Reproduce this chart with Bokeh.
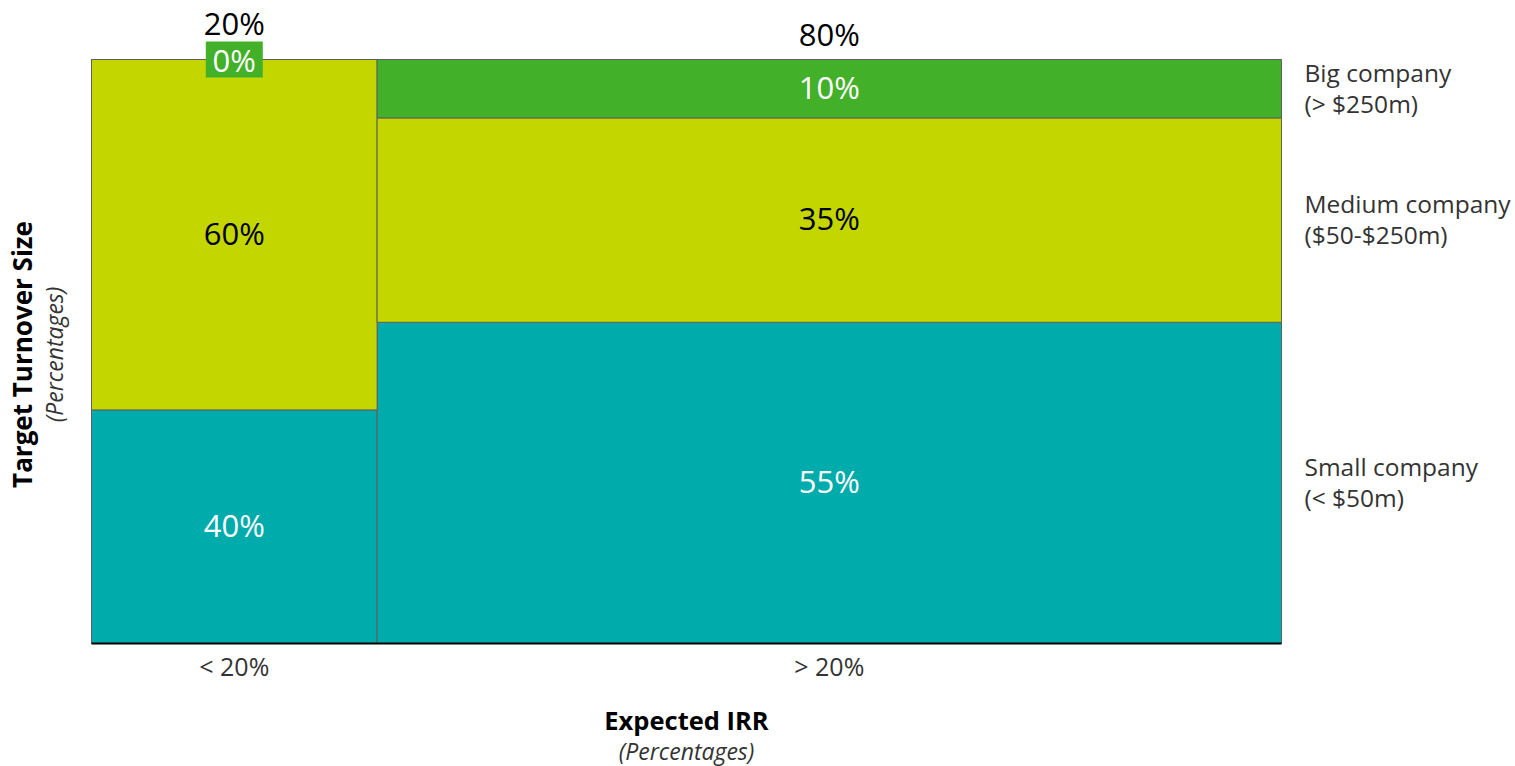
import numpy as np
from bokeh.plotting import figure
from bokeh.models import ColumnDataSource, Label, Range1d
from bokeh.embed import file_html
from bokeh.resources import INLINE

# ---- data ----
categories = ["< 20%", "> 20%"]
column_share_labels = ["20%", "80%"]
column_widths = [24, 76]          # visual widths as drawn in the picture
segments = ["Small company", "Medium company", "Big company"]
segment_notes = ["(< $50m)", "($50-$250m)", "(> $250m)"]
small = [40, 55]
medium = [60, 35]
big = [0, 10]

colors = ["#00ABAB", "#C4D600", "#43B02A"]
text_colors = ["white", "black", "white"]
FONT = "Open Sans"

# ---- layout (pixels) ----
W, H = 1515, 766
FL, FR, FT, FB = 91, 1281, 59, 643      # plotting area of the mekko
sx = (FR - FL) / 100.0
sy = (FB - FT) / 100.0
x_range = Range1d(-FL / sx, (W - FL) / sx)
y_range = Range1d(-(H - FB) / sy, FB / sy)

p = figure(width=W, height=H, output_backend="svg", toolbar_location=None,
           x_range=x_range, y_range=y_range, min_border=0,
           x_axis_location=None, y_axis_location=None)
p.outline_line_color = None
p.grid.visible = False
p.background_fill_color = "white"
p.border_fill_color = "white"

lefts = np.concatenate([[0], np.cumsum(column_widths)[:-1]]).astype(float)
rights = np.cumsum(column_widths).astype(float)
centers = (lefts + rights) / 2

series = [small, medium, big]
bottoms = np.zeros(len(categories))
seg_centers = []
zero_labels = []
for si, vals in enumerate(series):
    vals = np.array(vals, dtype=float)
    tops = bottoms + vals
    src = ColumnDataSource(dict(left=lefts, right=rights, bottom=bottoms, top=tops))
    p.quad(left="left", right="right", bottom="bottom", top="top", source=src,
           fill_color=colors[si], line_color="#5f5f5f", line_width=1)
    seg_centers.append((bottoms + tops) / 2)
    for ci, v in enumerate(vals):
        if v > 0:
            p.add_layout(Label(x=centers[ci], y=(bottoms[ci] + tops[ci]) / 2, y_offset=2,
                               text=f"{int(v)}%", text_align="center", text_baseline="middle",
                               text_font=FONT, text_font_size="31px",
                               text_color=text_colors[si]))
        else:
            zero_labels.append((centers[ci], tops[ci], f"{int(v)}%", colors[si]))
    bottoms = tops

# zero-height segments: label in a coloured box on the column top
for (zx, zy, zt, zc) in zero_labels:
    p.rect(x=[zx], y=[zy], width=57, height=36, width_units="screen", height_units="screen",
           fill_color=zc, line_color=None)
    p.add_layout(Label(x=zx, y=zy, text=zt, text_align="center", text_baseline="middle",
                       text_font=FONT, text_font_size="31px", text_color="white"))

# column share labels on top
for ci, lab in enumerate(column_share_labels):
    off = 37 if any(s[ci] == 0 for s in series) else 26
    p.add_layout(Label(x=centers[ci], y=100, y_offset=off, text=lab,
                       text_align="center", text_baseline="middle",
                       text_font=FONT, text_font_size="31px", text_color="black"))

# right-hand segment labels (aligned with last column)
for si in range(len(segments)):
    p.add_layout(Label(x=100, x_offset=23, y=seg_centers[si][-1], y_offset=1,
                       text=segments[si] + "\n" + segment_notes[si],
                       text_align="left", text_baseline="middle",
                       text_font=FONT, text_font_size="24.5px", text_color="#333333",
                       text_line_height=0.95))

# x axis line and category labels
p.segment(x0=[0], y0=[0], x1=[100], y1=[0], line_color="black", line_width=2)
for ci, cat in enumerate(categories):
    p.add_layout(Label(x=centers[ci], y=0, y_offset=-22, text=cat, text_align="center",
                       text_baseline="middle", text_font=FONT, text_font_size="25px",
                       text_color="#333333"))

# axis titles
p.add_layout(Label(x=50, y=0, y_offset=-76, text="Expected IRR", text_align="center",
                   text_baseline="middle", text_font=FONT, text_font_size="25.5px",
                   text_font_style="bold", text_color="black"))
p.add_layout(Label(x=50, y=0, y_offset=-107, text="(Percentages)", text_align="center",
                   text_baseline="middle", text_font=FONT, text_font_size="23px",
                   text_font_style="italic", text_color="#333333"))
p.add_layout(Label(x=0, x_offset=-70, y=50, y_offset=-3, text="Target Turnover Size",
                   angle=np.pi / 2, text_align="center", text_baseline="middle",
                   text_font=FONT, text_font_size="26px", text_font_style="bold",
                   text_color="black"))
p.add_layout(Label(x=0, x_offset=-38, y=50, y_offset=-3, text="(Percentages)",
                   angle=np.pi / 2, text_align="center", text_baseline="middle",
                   text_font=FONT, text_font_size="23px", text_font_style="italic",
                   text_color="#333333"))

open("out.html", "w").write(file_html(p, INLINE))
